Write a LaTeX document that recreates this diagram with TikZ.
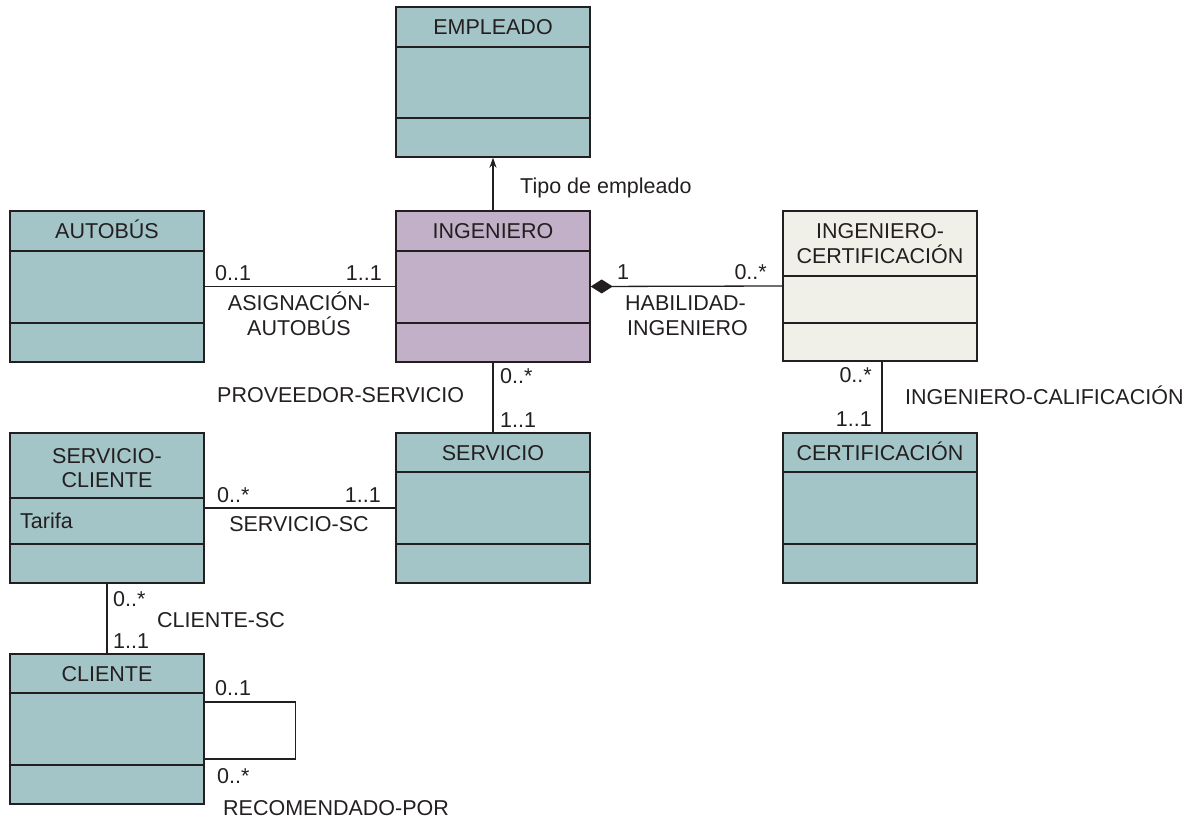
\documentclass[tikz,border=0pt]{standalone}
\usepackage{fontspec}
\setmainfont{Liberation Sans}
\usetikzlibrary{arrows.meta,calc}
\definecolor{tealbox}{RGB}{164,197,199}
\definecolor{lilac}{RGB}{193,176,199}
\definecolor{cream}{RGB}{241,240,232}
\definecolor{ink}{RGB}{35,31,32}
\begin{document}
\begin{tikzpicture}[x=1pt,y=-1pt,
  font=\fontsize{21.5}{25}\selectfont,
  cls/.style={draw=ink, line width=1.4pt, rectangle, minimum width=194pt, minimum height=150pt, inner sep=0pt},
  divline/.style={draw=ink, line width=1.4pt},
  conn/.style={draw=ink, line width=1.3pt},
  lbl/.style={inner sep=0pt, text=ink}]
\useasboundingbox (0,0) rectangle (1197,818);

% classes
\node[cls, fill=tealbox] (emp) at (493,82) {};
\node[cls, fill=tealbox, minimum height=151pt] (bus) at (107,286.5) {};
\node[cls, fill=lilac, minimum height=151pt] (ing) at (493,286.5) {};
\node[cls, fill=cream] (ic) at (880,286) {};
\node[cls, fill=tealbox] (sc) at (107,508) {};
\node[cls, fill=tealbox] (serv) at (493,508) {};
\node[cls, fill=tealbox] (cert) at (880,508) {};
\node[cls, fill=tealbox] (cli) at (107,729) {};

% compartments
\draw[divline] (emp.west |- 0,47) -- (emp.east |- 0,47);
\draw[divline] (emp.west |- 0,118) -- (emp.east |- 0,118);
\draw[divline] (bus.west |- 0,251) -- (bus.east |- 0,251);
\draw[divline] (bus.west |- 0,323) -- (bus.east |- 0,323);
\draw[divline] (ing.west |- 0,251) -- (ing.east |- 0,251);
\draw[divline] (ing.west |- 0,323) -- (ing.east |- 0,323);
\draw[divline] (ic.west |- 0,276) -- (ic.east |- 0,276);
\draw[divline] (ic.west |- 0,323) -- (ic.east |- 0,323);
\draw[divline] (sc.west |- 0,498) -- (sc.east |- 0,498);
\draw[divline] (sc.west |- 0,544) -- (sc.east |- 0,544);
\draw[divline] (serv.west |- 0,472) -- (serv.east |- 0,472);
\draw[divline] (serv.west |- 0,544) -- (serv.east |- 0,544);
\draw[divline] (cert.west |- 0,472) -- (cert.east |- 0,472);
\draw[divline] (cert.west |- 0,544) -- (cert.east |- 0,544);
\draw[divline] (cli.west |- 0,693) -- (cli.east |- 0,693);
\draw[divline] (cli.west |- 0,765) -- (cli.east |- 0,765);

% class names
\node[lbl, anchor=base] (tEmp) at (493,35) {EMPLEADO};
\node[lbl, anchor=base] (tBus) at (107,239) {AUTOBÚS};
\node[lbl, anchor=base] (tIng) at (493,239) {INGENIERO};
\node[lbl, anchor=base] (tIc1) at (880,239) {INGENIERO-};
\node[lbl, anchor=base] (tIc2) at (880,264) {CERTIFICACIÓN};
\node[lbl, anchor=base] (tSc1) at (107,463) {SERVICIO-};
\node[lbl, anchor=base] (tSc2) at (107,487) {CLIENTE};
\node[lbl, anchor=base west] (tTarifa) at (20,528) {Tarifa};
\node[lbl, anchor=base] (tServ) at (493,460) {SERVICIO};
\node[lbl, anchor=base] (tCert) at (880,460) {CERTIFICACIÓN};
\node[lbl, anchor=base] (tCli) at (107,681) {CLIENTE};

% connectors
\draw[conn, -{Stealth[length=10pt,width=7pt]}] (ing.north) -- (emp.south);
\draw[conn] (bus.east) -- (ing.west);
\draw[conn, {Diamond[length=22pt,width=14pt]}-] (ing.east) -- (ic.west);
\draw[conn] (ing.south) -- (serv.north);
\draw[conn] ([xshift=2pt]ic.south) -- ([xshift=2pt]cert.north);
\draw[conn] (sc.east) -- (serv.west);
\draw[conn] (sc.south) -- (cli.north);
\draw[conn] ([yshift=27pt]cli.east) -- ++(91,0) |- ([yshift=-30pt]cli.east);

% connector labels
\node[lbl, anchor=base west] (lTipo) at (520,194) {Tipo de empleado};
\node[lbl, anchor=base west] (m1) at (215,281) {0..1};
\node[lbl, anchor=base east] (m2) at (382,281) {1..1};
\node[lbl, anchor=base] (lAs1) at (299,311) {ASIGNACIÓN-};
\node[lbl, anchor=base] (lAs2) at (299,335) {AUTOBÚS};
\node[lbl, anchor=base west] (m3) at (617,280) {1};
\node[lbl, anchor=base east] (m4) at (767,280) {0..*};
\node[lbl, anchor=base west] (lHab1) at (625,311) {HABILIDAD-};
\node[lbl, anchor=base west] (lHab2) at (627,335) {INGENIERO};
\node[lbl, anchor=base west] (m5) at (500,383) {0..*};
\node[lbl, anchor=base west] (lProv) at (217,402) {PROVEEDOR-SERVICIO};
\node[lbl, anchor=base west] (m6) at (500,427) {1..1};
\node[lbl, anchor=base east] (m7) at (872,382) {0..*};
\node[lbl, anchor=base east] (m8) at (872,426) {1..1};
\node[lbl, anchor=base west] (lCal) at (905,404) {INGENIERO-CALIFICACIÓN};
\node[lbl, anchor=base west] (m9) at (217,502) {0..*};
\node[lbl, anchor=base east] (m10) at (381,502) {1..1};
\node[lbl, anchor=base] (lSsc) at (299,531) {SERVICIO-SC};
\node[lbl, anchor=base west] (m11) at (113,606) {0..*};
\node[lbl, anchor=base west] (lCsc) at (157,627) {CLIENTE-SC};
\node[lbl, anchor=base west] (m12) at (113,648) {1..1};
\node[lbl, anchor=base west] (m13) at (215,695) {0..1};
\node[lbl, anchor=base west] (m14) at (217,783) {0..*};
\node[lbl, anchor=base west] (lRec) at (223,815) {RECOMENDADO-POR};
\end{tikzpicture}
\end{document}
